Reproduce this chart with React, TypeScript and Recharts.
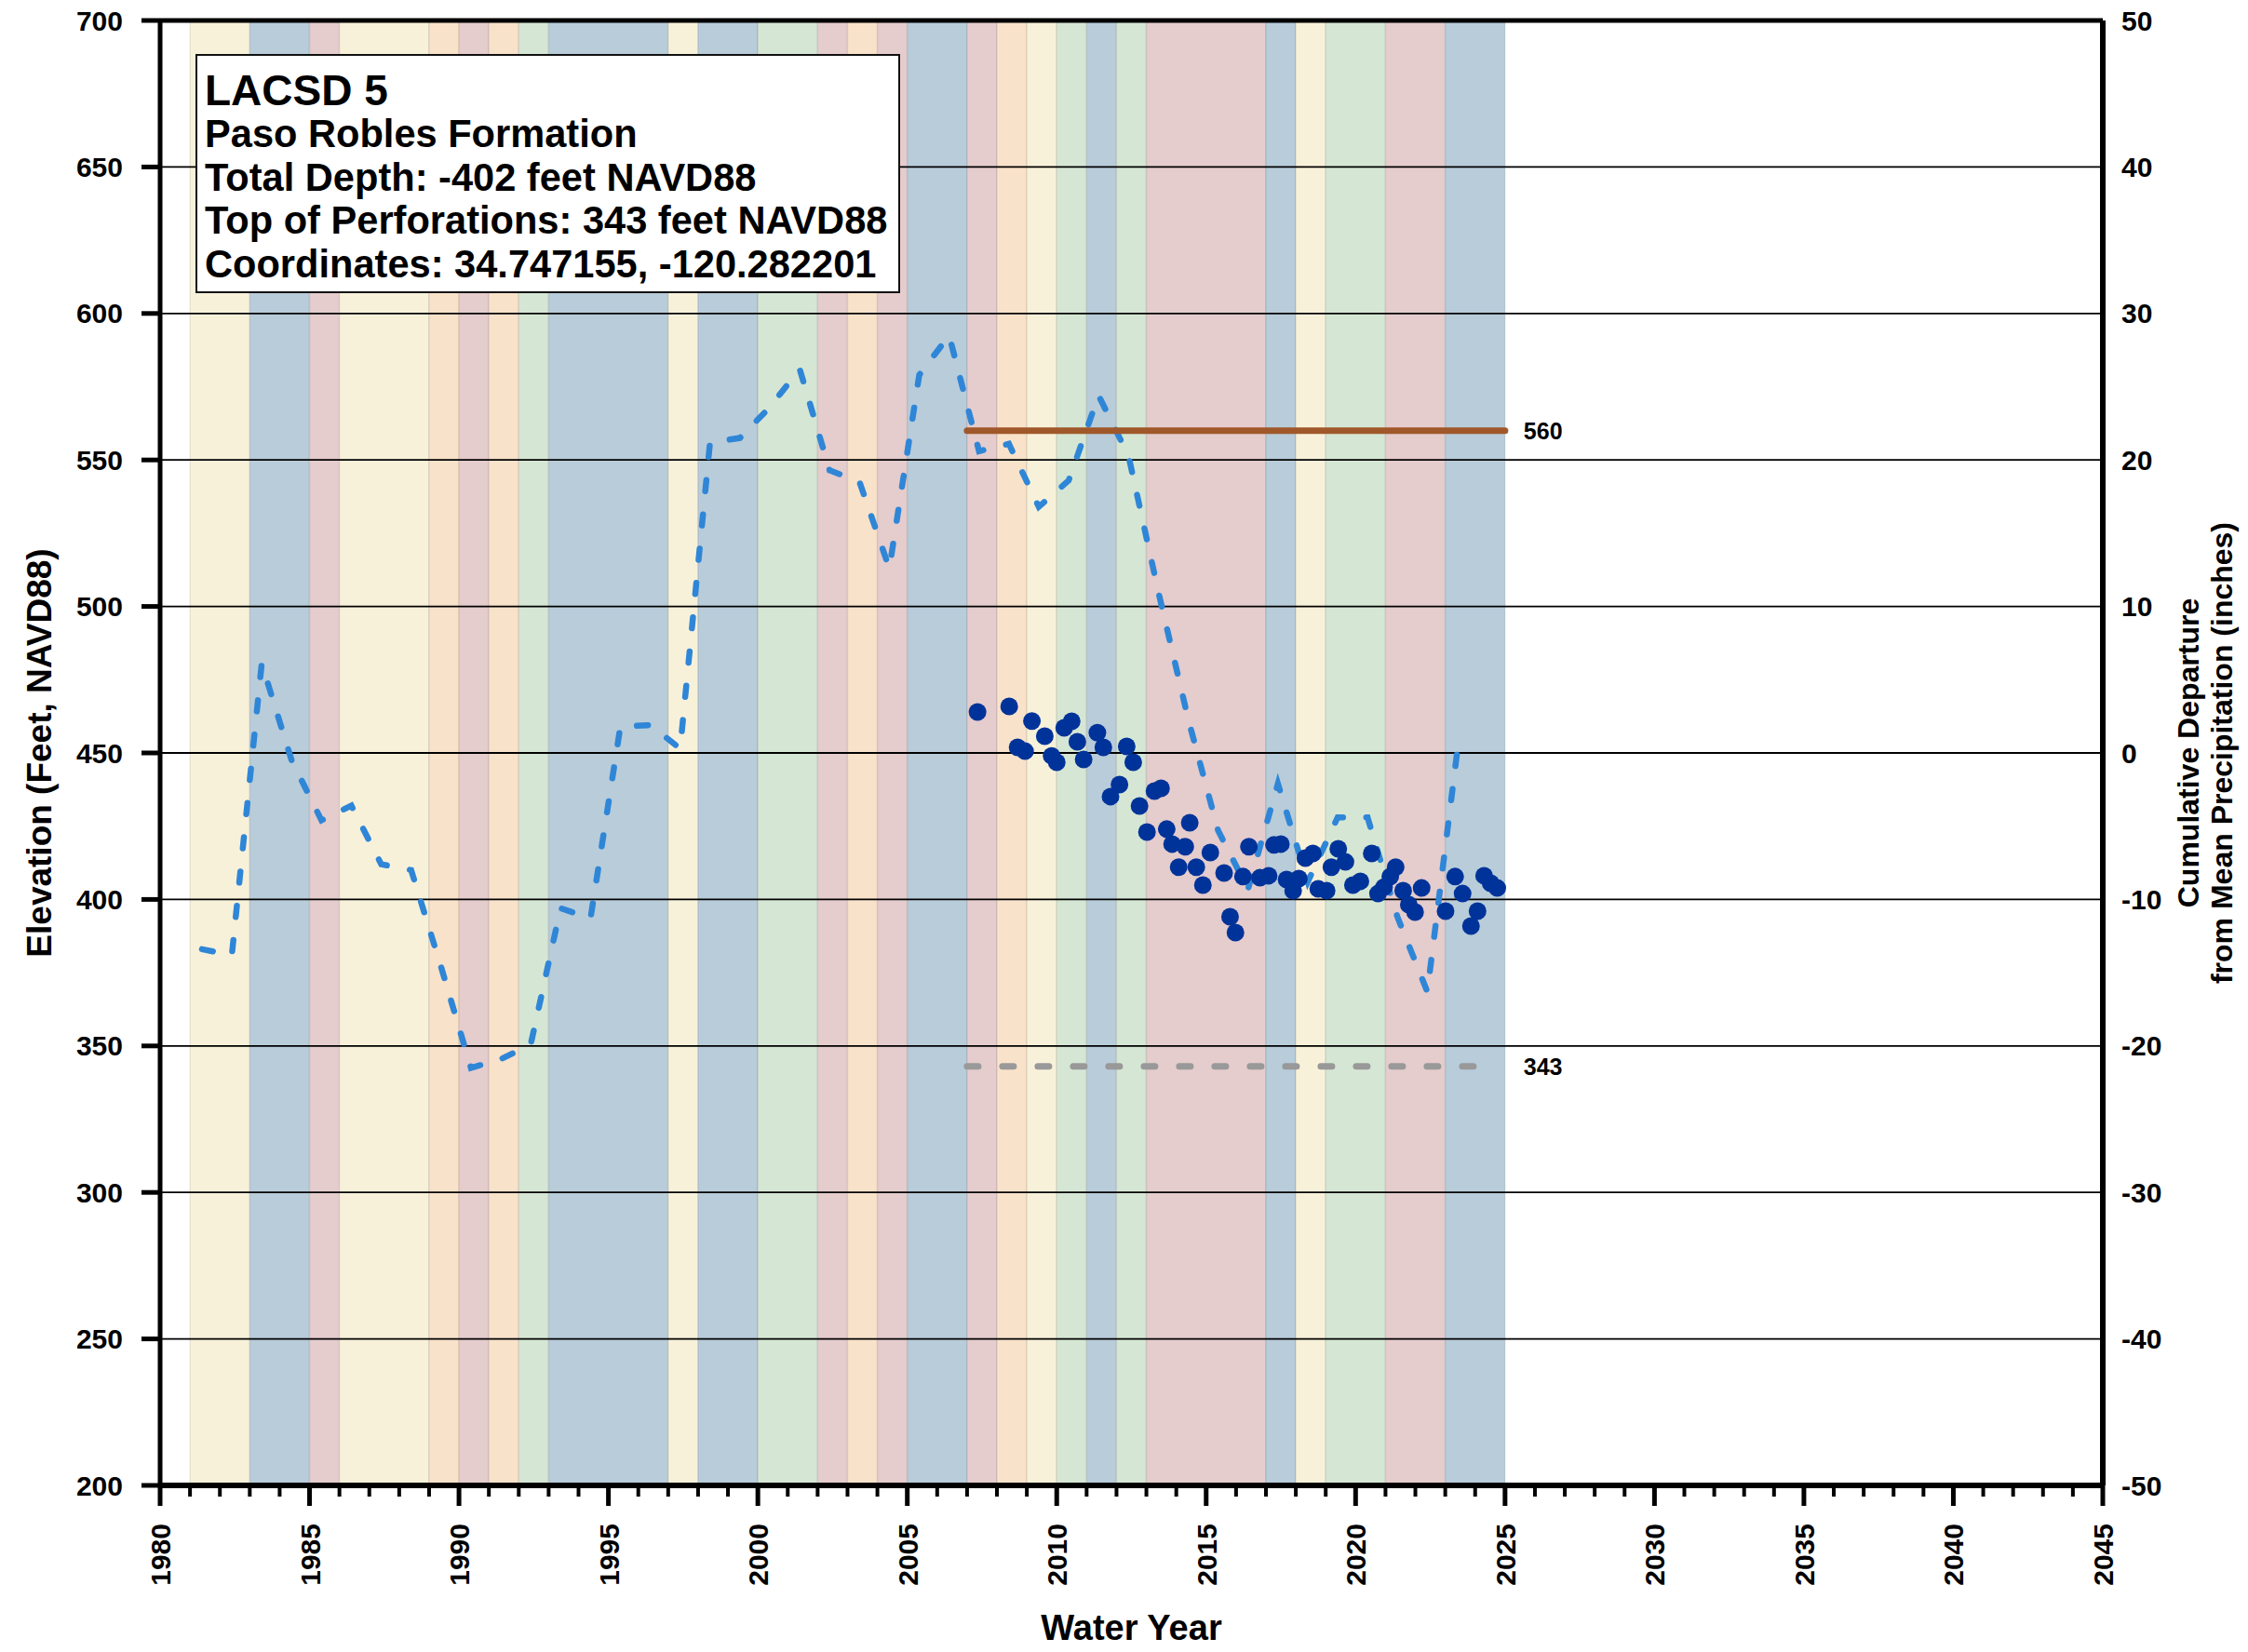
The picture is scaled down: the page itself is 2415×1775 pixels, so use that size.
import React from 'react';
import { ComposedChart, XAxis, YAxis, ReferenceArea, ReferenceLine, Line, Scatter } from 'recharts';

const FONT = '"Liberation Sans", Arial, Helvetica, sans-serif';

// Water-year classification bands (one entry per water year)
const waterYears = [
  1981, 1982, 1983, 1984, 1985, 1986, 1987, 1988, 1989, 1990, 1991, 1992, 1993, 1994, 1995,
  1996, 1997, 1998, 1999, 2000, 2001, 2002, 2003, 2004, 2005, 2006, 2007, 2008, 2009, 2010,
  2011, 2012, 2013, 2014, 2015, 2016, 2017, 2018, 2019, 2020, 2021, 2022, 2023, 2024,
];
const waterYearTypes = [
  'BN', 'BN', 'W', 'W', 'C', 'BN', 'BN', 'BN', 'D', 'C', 'D', 'AN', 'W', 'W', 'W',
  'W', 'BN', 'W', 'W', 'AN', 'AN', 'C', 'D', 'C', 'W', 'W', 'C', 'D', 'BN', 'AN',
  'W', 'AN', 'C', 'C', 'C', 'C', 'W', 'BN', 'AN', 'AN', 'C', 'C', 'W', 'W',
];
const typeColors: Record<string, string> = {
  W: '#B8CCDA',
  AN: '#D5E7D4',
  BN: '#F8F1DA',
  D: '#F9E2CA',
  C: '#E5CCCD',
};

// Cumulative departure from mean precipitation (inches)
const precipYears = [
  1981.4, 1982.4, 1983.4, 1984.4, 1985.4, 1986.4, 1987.4, 1988.4, 1989.4, 1990.4, 1991.4,
  1992.4, 1993.4, 1994.4, 1995.4, 1996.4, 1997.4, 1998.4, 1999.4, 2000.4, 2001.4, 2002.4,
  2003.4, 2004.4, 2005.4, 2006.4, 2007.4, 2008.4, 2009.4, 2010.4, 2011.4, 2012.4, 2013.4,
  2014.4, 2015.4, 2016.4, 2017.4, 2018.4, 2019.4, 2020.4, 2021.4, 2022.4, 2023.4,
];
const precipDeparture = [
  -13.4, -13.8, 6.1, -0.5, -4.6, -3.6, -7.6, -8.0, -14.6, -21.5, -20.9,
  -19.9, -10.6, -11.3, 1.8, 1.9, 0.3, 21.2, 21.5, 23.6, 26.2, 19.3,
  18.5, 12.6, 25.8, 28.5, 20.6, 21.1, 16.8, 18.6, 24.4, 20.3, 11.0,
  2.3, -5.3, -9.3, -2.1, -8.8, -4.4, -4.4, -11.2, -16.3, 0.1,
];

// Groundwater elevation observations (feet NAVD88)
const obsYears = [
  2007.35, 2008.41, 2009.17, 2008.69, 2008.94, 2009.6, 2009.83, 2010.0, 2010.25, 2010.5,
  2010.69, 2010.9, 2011.36, 2011.56, 2012.34, 2012.56, 2012.1, 2011.8, 2012.77, 2013.27,
  2013.49, 2013.02, 2013.68, 2014.45, 2013.86, 2014.3, 2014.08, 2014.67, 2015.14, 2014.89,
  2015.6, 2015.8, 2015.98, 2016.43, 2016.23, 2016.8, 2017.09, 2017.27, 2017.5, 2017.69,
  2017.91, 2018.1, 2018.32, 2018.57, 2018.75, 2019.03, 2019.19, 2019.42, 2019.66, 2019.91,
  2020.16, 2020.54, 2020.75, 2020.95, 2021.16, 2021.34, 2021.59, 2021.78, 2021.99, 2022.21,
  2023.01, 2023.33, 2023.58, 2023.86, 2024.08, 2024.3, 2024.52, 2024.74,
];
const obsElevation = [
  464.0, 465.9, 460.9, 451.9, 450.6, 455.7, 449.0, 446.8, 458.6, 460.8,
  453.8, 447.8, 456.9, 451.9, 452.2, 446.8, 439.2, 435.1, 431.9, 437.0,
  437.9, 423.0, 424.0, 426.2, 418.9, 418.0, 411.0, 411.0, 416.0, 404.9,
  409.0, 394.1, 388.7, 418.0, 407.8, 407.4, 408.1, 418.6, 418.9, 406.8,
  403.0, 407.1, 414.1, 415.7, 403.6, 403.0, 411.0, 417.3, 412.8, 404.9,
  406.2, 415.7, 402.0, 404.2, 407.8, 411.0, 403.0, 398.2, 395.7, 403.9,
  396.0, 407.8, 402.0, 390.9, 396.0, 408.1, 405.5, 403.9,
];

// Reference levels
const screenTopElevation = 343;
const screenTopSpan = [2007, 2024.5];
const thresholdElevation = 560;
const thresholdSpan = [2007, 2025];

// Axis ticks
const yearTicks = Array.from({ length: 66 }, (_, i) => 1980 + i);
const elevTicks = [200, 250, 300, 350, 400, 450, 500, 550, 600, 650, 700];
const gridElev = [250, 300, 350, 400, 450, 500, 550, 600, 650];
const precipTicks = [-50, -40, -30, -20, -10, 0, 10, 20, 30, 40, 50];

const infoTitle = 'LACSD 5';
const infoLines = [
  'Paso Robles Formation',
  'Total Depth: -402 feet NAVD88',
  'Top of Perforations: 343 feet NAVD88',
  'Coordinates: 34.747155, -120.282201',
];

// Build merged runs of identical water-year types
const bandRuns: { x1: number; x2: number; type: string }[] = [];
waterYears.forEach((y, i) => {
  const t = waterYearTypes[i];
  const last = bandRuns[bandRuns.length - 1];
  if (last && last.type === t && last.x2 === y) last.x2 = y + 1;
  else bandRuns.push({ x1: y, x2: y + 1, type: t });
});

const precipData = precipYears.map((x, i) => ({ x, v: precipDeparture[i] }));
const obsData = obsYears.map((x, i) => ({ x, y: obsElevation[i] }));

const W = 2415;
const H = 1775;
const LEFT_W = 172;
const RIGHT_W = 156;
const TOP = 22;
const XAXIS_H = 179;
const plotLeft = LEFT_W;
const plotRight = W - RIGHT_W;
const plotTop = TOP;
const plotBottom = H - XAXIS_H;

const XTick = (props: any) => {
  const { x, y, payload } = props;
  const v = payload.value;
  const major = v % 5 === 0;
  return (
    <g>
      <line x1={x} x2={x} y1={y} y2={y + (major ? 22 : 12)} stroke="#000" strokeWidth={major ? 5 : 4} />
      {major && (
        <text
          x={x + 11}
          y={y + 41}
          transform={`rotate(-90 ${x + 11} ${y + 41})`}
          textAnchor="end"
          fontFamily={FONT}
          fontWeight={700}
          fontSize={30}
          fill="#000"
        >
          {v}
        </text>
      )}
    </g>
  );
};

const Dot = (p: any) => <circle cx={p.cx} cy={p.cy} r={9.5} fill="#003399" />;

export default function App() {
  const cy = (plotTop + plotBottom) / 2;
  const cx = (plotLeft + plotRight) / 2;
  return (
    <div style={{ position: 'relative', width: W, height: H, margin: '-8px 0 0 -8px' }}>
      <style>{`.precip-line .recharts-line-curve, .precip-line path { stroke-linecap: round; }`}</style>
      <ComposedChart width={W} height={H} margin={{ top: TOP, right: 0, bottom: 0, left: 0 }}>
        <XAxis
          type="number"
          dataKey="x"
          domain={[1980, 2045]}
          ticks={yearTicks}
          interval={0}
          allowDataOverflow
          height={XAXIS_H}
          tickLine={false}
          tickSize={0}
          tickMargin={0}
          axisLine={{ stroke: '#000', strokeWidth: 6 }}
          tick={<XTick />}
        />
        <YAxis
          yAxisId="left"
          type="number"
          domain={[200, 700]}
          ticks={elevTicks}
          interval={0}
          allowDataOverflow
          width={LEFT_W}
          tickSize={20}
          tickMargin={20}
          tickLine={{ stroke: '#000', strokeWidth: 5 }}
          axisLine={{ stroke: '#000', strokeWidth: 5 }}
          tick={{ fill: '#000', fontSize: 30, fontWeight: 700, fontFamily: FONT }}
        />
        <YAxis
          yAxisId="right"
          orientation="right"
          type="number"
          domain={[-50, 50]}
          ticks={precipTicks}
          interval={0}
          allowDataOverflow
          width={RIGHT_W}
          tickSize={0}
          tickMargin={20}
          tickLine={false}
          axisLine={{ stroke: '#000', strokeWidth: 6 }}
          tick={{ fill: '#000', fontSize: 30, fontWeight: 700, fontFamily: FONT }}
        />
        {bandRuns.map((r) => (
          <ReferenceArea
            key={`band-${r.x1}`}
            yAxisId="left"
            x1={r.x1}
            x2={r.x2}
            y1={200}
            y2={700}
            fill={typeColors[r.type]}
            fillOpacity={1}
            stroke="#000"
            strokeOpacity={0.08}
            strokeWidth={1.5}
          />
        ))}
        {gridElev.map((v) => (
          <ReferenceLine key={`g-${v}`} yAxisId="left" y={v} stroke="#000" strokeWidth={1.8} />
        ))}
        <ReferenceLine yAxisId="left" y={700} stroke="#000" strokeWidth={5} />
        <ReferenceLine
          yAxisId="left"
          segment={[
            { x: screenTopSpan[0], y: screenTopElevation },
            { x: screenTopSpan[1], y: screenTopElevation },
          ]}
          stroke="#999999"
          strokeWidth={7}
          strokeDasharray="12 26"
          strokeLinecap="round"
          label={{ value: String(screenTopElevation), position: 'right', offset: 36, fill: '#000', fontSize: 25, fontWeight: 700, fontFamily: FONT }}
        />
        <Line
          className="precip-line"
          yAxisId="right"
          data={precipData}
          dataKey="v"
          type="linear"
          stroke="#2F86D7"
          strokeWidth={6.5}
          strokeDasharray="12 25"
          strokeLinecap="round"
          dot={false}
          activeDot={false}
          isAnimationActive={false}
        />
        <ReferenceLine
          yAxisId="left"
          segment={[
            { x: thresholdSpan[0], y: thresholdElevation },
            { x: thresholdSpan[1], y: thresholdElevation },
          ]}
          stroke="#A0582A"
          strokeWidth={7}
          strokeLinecap="round"
          label={{ value: String(thresholdElevation), position: 'right', offset: 20, fill: '#000', fontSize: 25, fontWeight: 700, fontFamily: FONT }}
        />
        <Scatter yAxisId="left" data={obsData} dataKey="y" fill="#003399" shape={<Dot />} isAnimationActive={false} />
      </ComposedChart>
      <svg
        width={W}
        height={H}
        style={{ position: 'absolute', left: 0, top: 0, pointerEvents: 'none' }}
        fontFamily={FONT}
        fontWeight={700}
      >
        <rect x={211} y={59} width={755} height={255} fill="#fff" stroke="#111" strokeWidth={2} />
        <text x={220} y={113} fontSize={46} fill="#000">{infoTitle}</text>
        {infoLines.map((t, i) => (
          <text key={t} x={220} y={158 + i * 46.5} fontSize={41.6} fill="#000">{t}</text>
        ))}
        <text x={55} y={cy} transform={`rotate(-90 55 ${cy})`} textAnchor="middle" fontSize={37} fill="#000">
          Elevation (Feet, NAVD88)
        </text>
        <text x={cx} y={1762} textAnchor="middle" fontSize={38} fill="#000">Water Year</text>
        <text x={2362} y={cy} transform={`rotate(-90 2362 ${cy})`} textAnchor="middle" fontSize={32} fill="#000">
          Cumulative Departure
        </text>
        <text x={2398} y={cy} transform={`rotate(-90 2398 ${cy})`} textAnchor="middle" fontSize={32} fill="#000">
          from Mean Precipitation (inches)
        </text>
      </svg>
    </div>
  );
}
